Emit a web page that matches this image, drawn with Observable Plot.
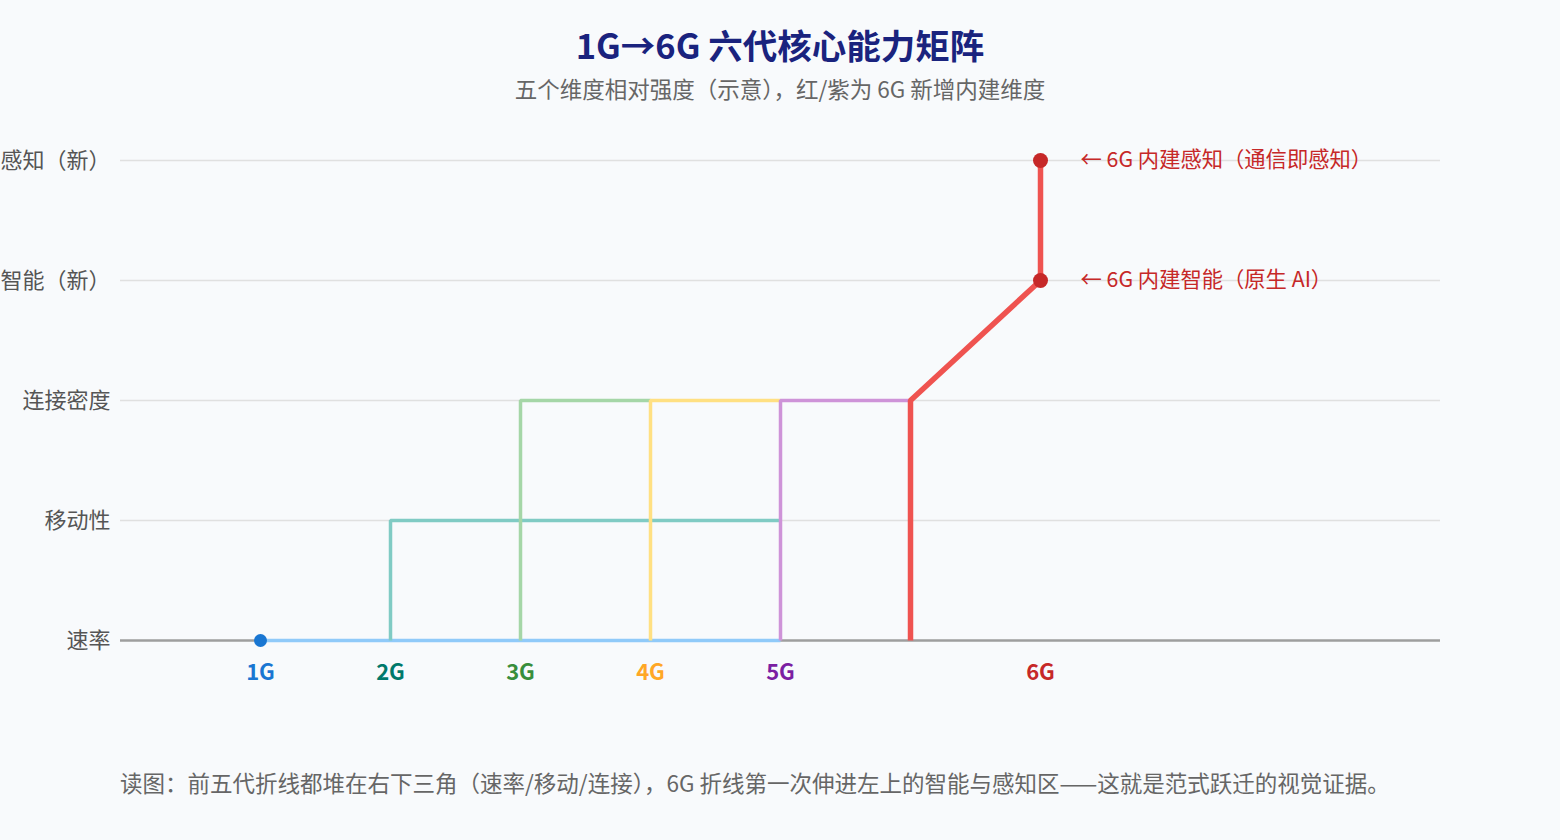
<!DOCTYPE html>
<html>
<head>
<meta charset="utf-8">
<script src="https://cdn.jsdelivr.net/npm/d3@7"></script>
<script src="https://cdn.jsdelivr.net/npm/@observablehq/plot@0.6"></script>
<style>
  html, body { margin: 0; padding: 0; background: #f8fafc; }
  body { width: 1560px; height: 840px; overflow: hidden; font-family: "Noto Sans CJK SC", "Noto Sans", sans-serif; }
  #header { position: relative; height: 120px; }
  #title { position: absolute; left: 0; right: 0; top: 25px; text-align: center; font-size: 34.5px; line-height: 38px; font-weight: 700; color: #1a237e; }
  #subtitle { position: absolute; left: 0; right: 0; top: 76px; text-align: center; font-size: 22.5px; line-height: 24px; color: #666; }
  #chart svg { display: block; overflow: visible; }
  #caption { margin-top: 47px; padding-left: 120px; font-size: 22.5px; line-height: 30px; color: #666; white-space: nowrap; }
</style>
</head>
<body>
<div id="header">
  <div id="title">1G→6G 六代核心能力矩阵</div>
  <div id="subtitle">五个维度相对强度（示意），红/紫为 6G 新增内建维度</div>
</div>
<div id="chart"></div>
<div id="caption">读图：前五代折线都堆在右下三角（速率/移动/连接），6G 折线第一次伸进左上的智能与感知区——这就是范式跃迁的视觉证据。</div>
<script>
// ---- data ----
const dimensions = ["感知（新）", "智能（新）", "连接密度", "移动性", "速率"];
const generations = ["1G", "2G", "3G", "4G", "5G", "6G"];
const generationStep = [1, 2, 3, 4, 5, 7];
const labelColors = ["#1976D2", "#00796B", "#388E3C", "#FFA726", "#7B1FA2", "#C62828"];
const lineColors = ["#90CAF9", "#80CBC4", "#A5D6A7", "#FFE082", "#CE93D8", "#EF5350"];
const lineWidths = [3.5, 3.5, 3.5, 3.5, 3.5, 5.5];
// polyline of each generation: [step, dimension]
const path1G = [[1, "速率"], [5, "速率"]];
const path2G = [[2, "速率"], [2, "移动性"], [5, "移动性"]];
const path3G = [[3, "速率"], [3, "连接密度"], [4, "连接密度"]];
const path4G = [[4, "速率"], [4, "连接密度"], [5, "连接密度"]];
const path5G = [[5, "速率"], [5, "连接密度"], [6, "连接密度"]];
const path6G = [[6, "速率"], [6, "连接密度"], [7, "智能（新）"], [7, "感知（新）"]];
const dots = [
  {step: 1, dim: "速率", color: "#1976D2", r: 6.5},
  {step: 7, dim: "智能（新）", color: "#C62828", r: 7.5},
  {step: 7, dim: "感知（新）", color: "#C62828", r: 7.5}
];
const notes = [
  {step: 7, dim: "感知（新）", text: "← 6G 内建感知（通信即感知）"},
  {step: 7, dim: "智能（新）", text: "← 6G 内建智能（原生 AI）"}
];

// ---- build tables ----
const paths = [path1G, path2G, path3G, path4G, path5G, path6G];
const lineRows = paths.flatMap((p, i) => p.map(([step, dim]) => ({gen: generations[i], step, dim})));
const genLabels = generations.map((g, i) => ({gen: g, step: generationStep[i], color: labelColors[i]}));

const width = 1560, height = 600, mL = 120, mR = 120;
// x: 1 unit per 130px, 1G sits 140px in from the left of the frame
const unit = 130;
const xDomain = [1 - 140 / unit, 1 + (width - mL - mR - 140) / unit];

const marks = [
  Plot.ruleY(dimensions.filter(d => d !== "速率"), {y: d => d, stroke: "#e0e0e0", strokeWidth: 1.5}),
  Plot.ruleY(["速率"], {y: d => d, stroke: "#9e9e9e", strokeWidth: 2.5}),
  Plot.axisY({tickSize: 0, tickPadding: 10, fontSize: 22, color: "#555"}),
];
paths.forEach((p, i) => {
  marks.push(Plot.line(lineRows.filter(r => r.gen === generations[i]), {
    x: "step", y: "dim", stroke: lineColors[i], strokeWidth: lineWidths[i],
    strokeLinejoin: "miter", strokeLinecap: "butt"
  }));
});
marks.push(
  Plot.dot(dots, {x: "step", y: "dim", r: "r", fill: "color", stroke: "none"}),
  Plot.text(genLabels, {x: "step", y: () => "速率", dy: 32, text: "gen", fill: "color", fontSize: 22, fontWeight: 700}),
  Plot.text(notes, {x: "step", y: "dim", dx: 40, text: "text", textAnchor: "start", fill: "#C62828", fontSize: 21.3})
);

const chart = Plot.plot({
  width, height,
  marginLeft: mL, marginRight: mR, marginTop: 40, marginBottom: 80,
  x: {domain: xDomain, axis: null},
  y: {type: "point", domain: dimensions, padding: 0, label: null},
  r: {type: "identity"},
  style: {background: "transparent", fontFamily: '"Noto Sans CJK SC", "Noto Sans", sans-serif', overflow: "visible"},
  marks
});
document.getElementById("chart").appendChild(chart);
</script>
</body>
</html>
